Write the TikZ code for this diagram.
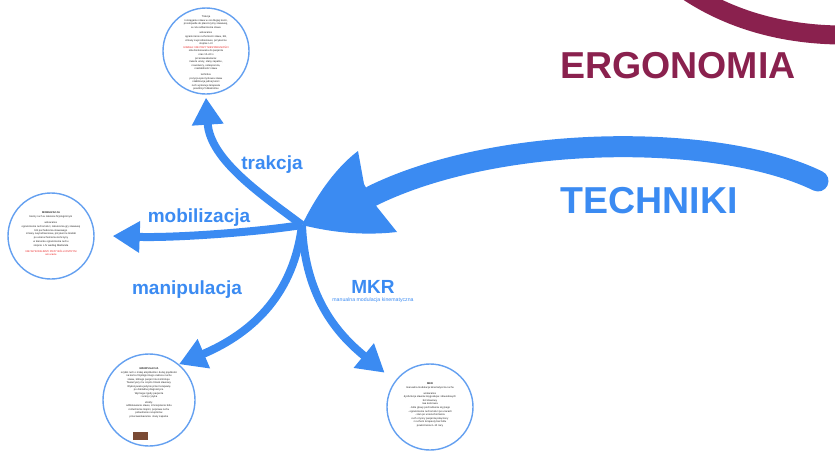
\documentclass[tikz,border=0pt]{standalone}
\usepackage{fontspec}
\setmainfont{Liberation Sans}
\usetikzlibrary{arrows.meta}

\definecolor{techblue}{RGB}{59,139,242}
\definecolor{ringblue}{RGB}{100,160,240}
\definecolor{ergo}{RGB}{138,33,78}
\definecolor{notered}{RGB}{232,32,32}
\definecolor{chipbrown}{RGB}{122,74,52}

\tikzset{
  topic/.style={circle, draw=ringblue, line width=1.4pt, minimum size=86pt, inner sep=0pt},
  note/.style={align=center, inner sep=0pt, text=black!85, font=\fontsize{2.6}{3.6}\selectfont},
  branch/.style={draw=techblue, line width=8pt, -{Triangle[width=30pt,length=27pt]}},
  branchlabel/.style={text=techblue, inner sep=0pt, font=\fontsize{19}{19}\selectfont\bfseries},
  headline/.style={inner sep=0pt, font=\fontsize{37.5}{37.5}\selectfont\bfseries},
}

\begin{document}
\begin{tikzpicture}[x=1pt,y=-1pt]
\path[use as bounding box] (0,0) rectangle (835,458);

% maroon ring in the corner
\draw[ergo, line width=19pt] (680,-14) .. controls (730,22) and (790,36) .. (850,35);

% titles
\node[headline, text=ergo] (ergonomia) at (678,66) {ERGONOMIA};
\node[headline, text=techblue] (techniki) at (649,201) {TECHNIKI};

% hub where all branches meet
\coordinate (hub) at (302,225);
\coordinate (src) at (818,181);
\coordinate (neck) at (372,196);

% big incoming arrow: arched shaft and swept head
\draw[techblue, line width=21pt, line cap=round]
  (src) .. controls (720,133) and (500,133) .. (neck);
\fill[techblue] (hub) .. controls (318,192) and (338,166) .. (358,151)
  -- (364,184) -- (377,207) -- (397,232)
  .. controls (362,236) and (330,232) .. (hub) -- cycle;

% topic circles
\node[topic] (trak) at (206,51) {};
\node[topic] (mob) at (51,236) {};
\node[topic, minimum size=92pt] (man) at (149,400) {};
\node[topic] (mkr) at (430,407) {};

% circle contents
\node[note] (ttrak) at (206,53) {%
  Trakcja\\
  rozciąganie stawu w osi długiej kości,\\
  prostopadle do płaszczyzny stawowej,\\
  w celu odbarczenia stawu\\[2pt]
  wskazania:\\
  ograniczenie ruchomości stawu, ból,\\
  zmiany zwyrodnieniowe, przykurcze\\
  stopnie I--III\\
  \textcolor{notered}{UWAGA: NIE PRZY NIESTABILNOŚCI}\\
  siła dostosowana do pacjenta\\
  czas 10--60 s\\
  przeciwwskazania:\\
  świeże urazy, stany zapalne,\\
  nowotwory, osteoporoza,\\
  niestabilność stawu\\[2pt]
  technika:\\
  pozycja spoczynkowa stawu\\
  stabilizacja jednej kości\\
  ruch wykonuje terapeuta\\
  powtórzyć kilkakrotnie};

\node[note, font=\fontsize{2.6}{3.8}\selectfont] (tmob) at (51,234) {%
  \textbf{MOBILIZACJA}\\
  bierny ruch w zakresie fizjologicznym\\[2pt]
  wskazania:\\
  ograniczenie ruchomości, zaburzenia gry stawowej\\
  ból pochodzenia stawowego\\
  zmiany zwyrodnieniowe, przykurcze torebki\\
  po unieruchomieniu kończyny\\
  w kierunku ograniczenia ruchu\\
  stopnie I--IV według Maitlanda\\[2pt]
  \textcolor{notered}{NIE WYKONUJEMY PRZY BÓLU OSTRYM}\\
  \textcolor{notered}{ani urazie}};

\node[note, font=\fontsize{2.6}{3.5}\selectfont] (tman) at (149,393) {%
  \textbf{MANIPULACJA}\\
  szybki ruch o małej amplitudzie i dużej prędkości\\
  na końcu fizjologicznego zakresu ruchu\\
  stawu, którego pacjent nie kontroluje.\\
  Towarzyszy mu często trzask stawowy.\\
  Wykonywana jedynie przez terapeutę\\
  po dokładnej diagnostyce.\\
  Wymaga zgody pacjenta\\
  i oceny ryzyka\\[2pt]
  efekty:\\
  odblokowanie stawu, zmniejszenie bólu\\
  rozluźnienie mięśni, poprawa ruchu\\
  pobudzenie receptorów\\
  przeciwwskazania: stany zapalne};

\node[fill=chipbrown, minimum width=15pt, minimum height=8pt, inner sep=0pt] (chip) at (140.5,436) {};

\node[note, font=\fontsize{2.6}{3.6}\selectfont] (tmkr) at (430,405) {%
  \textbf{MKR}\\
  manualna modulacja kinematyczna ruchu\\[2pt]
  wskazania:\\
  dysfunkcje stawów kręgosłupa i obwodowych\\
  ból stawowy\\
  rwa kulszowa\\
  - bóle głowy pochodzenia szyjnego\\
  - ograniczenie ruchomości po urazach\\
  - stan po unieruchomieniu\\
  ruch czynny pacjenta połączony\\
  z ruchem terapeuty bez bólu\\
  powtórzenia 6--10 razy};

% branches
\draw[branch] (hub) .. controls (262,195) and (210,160) .. ([yshift=-3pt]trak.south);
\draw[branch] (hub) .. controls (250,233) and (170,238) .. ([xshift=18pt]mob.east);
\draw[branch] (hub) .. controls (294,292) and (255,332) .. (man.50);
\draw[branch] (hub) .. controls (305,300) and (340,336) .. ([shift={(-10.5pt,8pt)}]mkr.143);

% branch labels
\node[branchlabel] (ltrak) at (272,165) {trakcja};
\node[branchlabel] (lmob) at (199,218) {mobilizacja};
\node[branchlabel] (lman) at (187,290) {manipulacja};
\node[branchlabel] (lmkr) at (373,287) {MKR};
\node[inner sep=0pt, text=techblue, font=\fontsize{5.2}{6}\selectfont] (lmkrsub) at (373,300) {manualna modulacja kinematyczna};
\end{tikzpicture}
\end{document}
